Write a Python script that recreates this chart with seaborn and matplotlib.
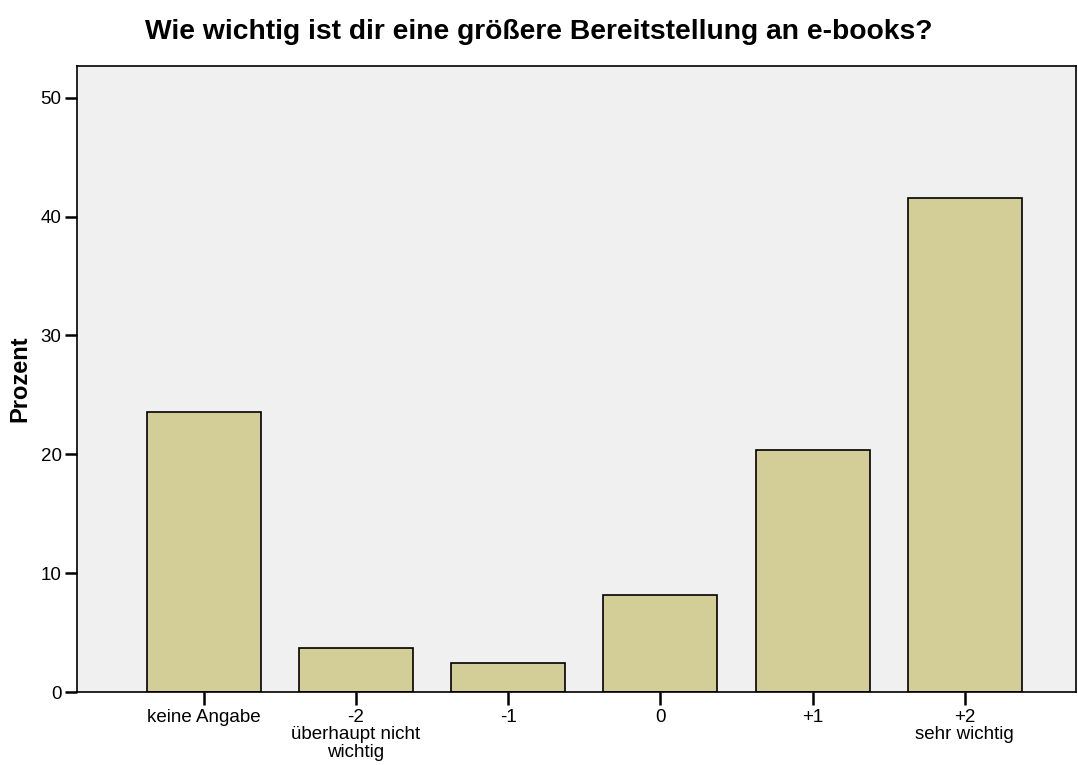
import matplotlib
matplotlib.use("Agg")
import matplotlib.pyplot as plt
import seaborn as sns
import pandas as pd

categories = ["keine Angabe", "-2\nüberhaupt nicht\nwichtig", "-1", "0", "+1", "+2\nsehr wichtig"]
prozent = [23.6, 3.7, 2.4, 8.2, 20.4, 41.6]
yticks = [0, 10, 20, 30, 40, 50]
title = "Wie wichtig ist dir eine größere Bereitstellung an e-books?"

sns.set_style("white")
plt.rcParams['font.family'] = ['Liberation Sans', 'DejaVu Sans']
plt.rcParams['text.color'] = 'black'
plt.rcParams['axes.labelcolor'] = 'black'

df = pd.DataFrame({"Kategorie": categories, "Prozent": prozent})

fig = plt.figure(figsize=(10.78, 7.65), dpi=100)
ax = fig.add_axes([0.0714, 0.0954, 0.9266, 0.8183])
ax.set_facecolor("#F0F0F0")

sns.barplot(data=df, x="Kategorie", y="Prozent", order=categories, color="#D3CE98",
            saturation=1, width=0.75, edgecolor="black", linewidth=1.2, ax=ax)

ax.set_xlim(-0.834, 5.73)
ax.set_ylim(0, 52.67)
ax.set_yticks(yticks)
ax.set_xlabel("")
ax.set_ylabel("Prozent", fontsize=17, fontweight="bold", labelpad=7)
ax.tick_params(axis="both", direction="out", length=9, width=1.8, colors="black",
               labelcolor="black", labelsize=13.5, bottom=True, left=True)
ax.tick_params(axis="x", pad=3)
ax.tick_params(axis="y", pad=2)
for lab in ax.get_xticklabels():
    lab.set_linespacing(1.05)
for s in ax.spines.values():
    s.set_visible(True)
    s.set_color("black")
    s.set_linewidth(1.2)

fig.text(0.5, 0.958, title, ha="center", va="center", fontsize=20.3, fontweight="bold")

fig.savefig("out.png", dpi=100)
